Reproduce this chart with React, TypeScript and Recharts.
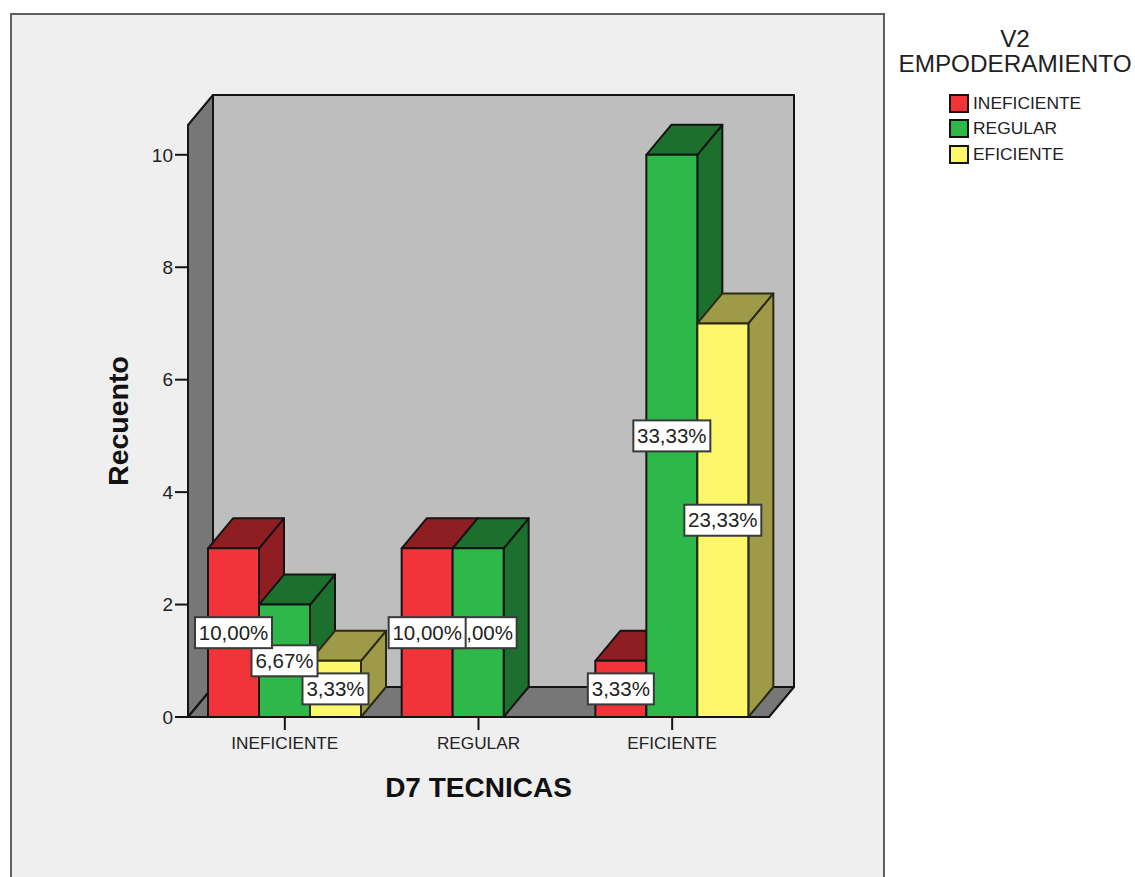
import { Bar, BarChart, LabelList, Legend, XAxis, YAxis, usePlotArea } from "recharts";

const FONT = "'Liberation Sans', Arial, sans-serif";
const INK = "#141414";
const DEPTH_X = 25;
const DEPTH_Y = 30;

const categories = ["INEFICIENTE", "REGULAR", "EFICIENTE"];
const ineficienteCounts = [3, 3, 1];
const regularCounts = [2, 3, 10];
const eficienteCounts = [1, null, 7];
const ineficienteLabels = ["10,00%", "10,00%", "3,33%"];
const regularLabels = ["6,67%", "10,00%", "33,33%"];
const eficienteLabels = ["3,33%", null, "23,33%"];
const yTicks = [0, 2, 4, 6, 8, 10];

const chartData = categories.map((name, i) => ({
  name,
  ineficiente: ineficienteCounts[i],
  regular: regularCounts[i],
  eficiente: eficienteCounts[i],
  ineficienteLabel: ineficienteLabels[i],
  regularLabel: regularLabels[i],
  eficienteLabel: eficienteLabels[i],
}));

// Floor and walls behind the bars
function Walls() {
  const plot = usePlotArea();
  if (!plot) return null;
  const left = plot.x;
  const right = plot.x + plot.width;
  const top = plot.y;
  const bottom = plot.y + plot.height;
  return (
    <g stroke={INK} strokeWidth={2} strokeLinejoin="round">
      <rect
        x={left + DEPTH_X}
        y={top - DEPTH_Y}
        width={plot.width}
        height={plot.height}
        fill="#bebebe"
      />
      <polygon
        points={`${left},${top} ${left + DEPTH_X},${top - DEPTH_Y} ${left + DEPTH_X},${bottom - DEPTH_Y} ${left},${bottom}`}
        fill="#777777"
      />
      <polygon
        points={`${left},${bottom} ${left + DEPTH_X},${bottom - DEPTH_Y} ${right + DEPTH_X},${bottom - DEPTH_Y} ${right},${bottom}`}
        fill="#777777"
      />
    </g>
  );
}

function Bar3D({ x, y, width, height, fill, dark, edge }: any) {
  if (!height || height <= 0) return null;
  const r = x + width;
  const b = y + height;
  return (
    <g stroke={edge} strokeWidth={2} strokeLinejoin="round">
      <polygon
        points={`${r},${y} ${r + DEPTH_X},${y - DEPTH_Y} ${r + DEPTH_X},${b - DEPTH_Y} ${r},${b}`}
        fill={dark}
      />
      <polygon
        points={`${x},${y} ${x + DEPTH_X},${y - DEPTH_Y} ${r + DEPTH_X},${y - DEPTH_Y} ${r},${y}`}
        fill={dark}
      />
      <rect x={x} y={y} width={width} height={height} fill={fill} />
    </g>
  );
}

function PercentBox({ x, y, width, height, value }: any) {
  if (value === null || value === undefined || value === "") return null;
  const text = String(value);
  const boxW = text.length * 11 + 11;
  const boxH = 31;
  const cx = x + width / 2;
  const cy = y + height / 2;
  return (
    <g>
      <rect
        x={cx - boxW / 2}
        y={cy - boxH / 2}
        width={boxW}
        height={boxH}
        fill="#ffffff"
        stroke="#3a3a3a"
        strokeWidth={2}
      />
      <text
        x={cx}
        y={cy + 7}
        textAnchor="middle"
        fontFamily={FONT}
        fontSize={20.5}
        fill="#222222"
      >
        {text}
      </text>
    </g>
  );
}

function LegendBlock({ payload }: any) {
  return (
    <div style={{ fontFamily: FONT, color: "#222222", width: 240 }}>
      <div style={{ textAlign: "center", fontSize: 24.3, lineHeight: "25px" }}>
        V2
        <br />
        EMPODERAMIENTO
      </div>
      <div style={{ marginTop: 15, marginLeft: 54 }}>
        {(payload ?? []).map((item: any) => (
          <div
            key={item.value}
            style={{ display: "flex", alignItems: "center", height: 25.3, fontSize: 17.4 }}
          >
            <span
              style={{
                display: "inline-block",
                boxSizing: "border-box",
                width: 20,
                height: 19,
                marginRight: 4,
                background: item.color,
                border: `2px solid ${INK}`,
              }}
            />
            {item.value}
          </div>
        ))}
      </div>
    </div>
  );
}

const xTickStyle = { fontFamily: FONT, fontSize: 17.2, fill: "#222222" };
const yTickStyle = { fontFamily: FONT, fontSize: 19, fill: "#222222" };

export default function App() {
  return (
    <div style={{ position: "fixed", left: 0, top: 0, width: 1135, height: 877, overflow: "hidden", background: "#ffffff" }}>
      <div
        style={{
          position: "absolute",
          left: 10,
          top: 13,
          width: 875,
          height: 900,
          boxSizing: "border-box",
          background: "#efefef",
          border: "2px solid #5f5f5f",
        }}
      />
      <BarChart
        width={1135}
        height={877}
        data={chartData}
        margin={{ top: 125, right: 366, bottom: 130, left: 88 }}
        barCategoryGap={20}
        barGap={0}
        style={{ position: "absolute", left: 0, top: 0 }}
      >
        <Walls />
        <XAxis
          dataKey="name"
          tick={xTickStyle}
          tickSize={13}
          tickMargin={7}
          stroke={INK}
          axisLine={{ stroke: INK, strokeWidth: 2 }}
          tickLine={{ stroke: INK, strokeWidth: 2 }}
          label={{
            value: "D7 TECNICAS",
            position: "insideBottom",
            offset: -50,
            style: { fontFamily: FONT, fontSize: 28, fontWeight: 700, fill: "#111111" },
          }}
        />
        <YAxis
          domain={[0, 10.53]}
          ticks={yTicks}
          tick={yTickStyle}
          tickSize={13}
          tickMargin={2}
          width={100}
          stroke={INK}
          axisLine={{ stroke: INK, strokeWidth: 2 }}
          tickLine={{ stroke: INK, strokeWidth: 2 }}
          label={{
            value: "Recuento",
            angle: -90,
            position: "insideLeft",
            offset: 30,
            style: { textAnchor: "middle", fontFamily: FONT, fontSize: 28.5, fontWeight: 700, fill: "#111111" },
          }}
        />
        <Legend
          verticalAlign="middle"
          align="center"
          itemSorter={null}
          content={<LegendBlock />}
          wrapperStyle={{ position: "absolute", left: 895, top: 26, width: 240 }}
        />
        <Bar
          dataKey="ineficiente"
          name="INEFICIENTE"
          fill="#f23338"
          isAnimationActive={false}
          shape={<Bar3D dark="#8f1e22" edge={INK} />}
        >
          <LabelList dataKey="ineficienteLabel" content={<PercentBox />} zIndex={2003} />
        </Bar>
        <Bar
          dataKey="regular"
          name="REGULAR"
          fill="#2fb84a"
          isAnimationActive={false}
          shape={<Bar3D dark="#1c6f2c" edge={INK} />}
        >
          <LabelList dataKey="regularLabel" content={<PercentBox />} zIndex={2002} />
        </Bar>
        <Bar
          dataKey="eficiente"
          name="EFICIENTE"
          fill="#fdf76c"
          isAnimationActive={false}
          shape={<Bar3D dark="#9e9a47" edge="#2a2a14" />}
        >
          <LabelList dataKey="eficienteLabel" content={<PercentBox />} zIndex={2001} />
        </Bar>
      </BarChart>
    </div>
  );
}
